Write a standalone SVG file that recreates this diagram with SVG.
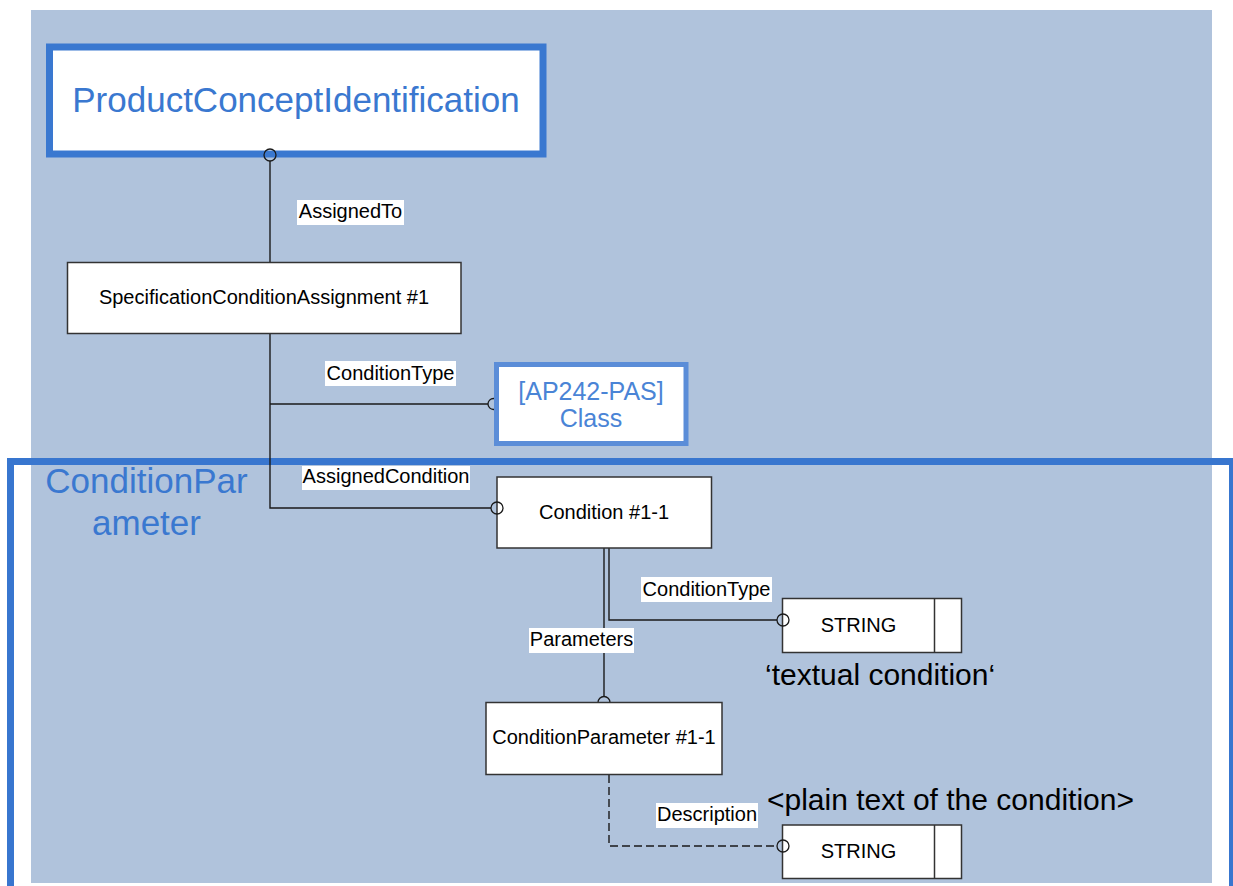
<svg xmlns="http://www.w3.org/2000/svg" width="1233" height="886" viewBox="0 0 1233 886">
<style>
text{font-family:"Liberation Sans",Arial,sans-serif;}
.box{fill:#fff;stroke:#333;stroke-width:1.5;}
.lbl{fill:#fff;}
.t20{font-size:20px;fill:#000;}
.mid{text-anchor:middle;}
.con{fill:none;stroke:#1a1a1a;stroke-width:1.4;}
.dash{stroke-dasharray:8 4;}
.ring{fill:none;stroke:#1a1a1a;stroke-width:1.3;}
.big{font-size:35px;fill:#3A78D0;}
.note{font-size:30px;fill:#000;}
</style>
<rect x="31" y="10" width="1181" height="873" fill="#B0C3DC"/>

<g id="frame-ConditionParameter">
<rect x="10.5" y="461.5" width="1222" height="500" fill="none" stroke="#3876CF" stroke-width="7"/>
<text class="big mid" x="146.5" y="493">ConditionPar</text>
<text class="big mid" x="146.5" y="535">ameter</text>
</g>

<g id="connectors">
<line class="con" x1="270" y1="161" x2="270" y2="262"/>
<polyline class="con" points="270,333 270,508 491,508"/>
<line class="con" x1="270" y1="404" x2="488" y2="404"/>
<line class="con" x1="604" y1="548" x2="604" y2="696.5"/>
<polyline class="con" points="609,548 609,620 777,620"/>
<polyline class="con dash" points="609,775 609,846 777,846"/>
<circle class="ring" cx="493.5" cy="404" r="5.5"/>
<path class="ring" d="M598,702.5 A6,6 0 0 1 610,702.5"/>
<rect class="lbl" x="297" y="200" width="107" height="25"/>
<text class="t20 mid" x="350.5" y="218">AssignedTo</text>
<rect class="lbl" x="325" y="361" width="131" height="25"/>
<text class="t20 mid" x="390.5" y="380">ConditionType</text>
<rect class="lbl" x="302" y="466" width="168" height="24"/>
<text class="t20 mid" x="386" y="483">AssignedCondition</text>
<rect class="lbl" x="641" y="577" width="131" height="25"/>
<text class="t20 mid" x="706.5" y="596">ConditionType</text>
<rect class="lbl" x="529" y="628" width="105" height="25"/>
<text class="t20 mid" x="581.5" y="646">Parameters</text>
<rect class="lbl" x="656" y="803" width="102" height="25"/>
<text class="t20 mid" x="707" y="821">Description</text>
</g>

<g id="node-ProductConceptIdentification">
<rect x="49.5" y="47" width="493.5" height="107" fill="#fff" stroke="#3A78D0" stroke-width="7"/>
<text class="big mid" x="296" y="112">ProductConceptIdentification</text>
</g>

<g id="node-SpecificationConditionAssignment">
<rect class="box" x="67.5" y="262.5" width="393.5" height="71"/>
<text class="t20 mid" x="264" y="304">SpecificationConditionAssignment #1</text>
</g>

<g id="node-Class">
<rect x="496.5" y="364.5" width="189.5" height="79" fill="#fff" stroke="#5B8DD8" stroke-width="5"/>
<text class="mid" x="591" y="400" font-size="25" fill="#4A84D6">[AP242-PAS]</text>
<text class="mid" x="591" y="427" font-size="25" fill="#4A84D6">Class</text>
</g>

<g id="node-Condition">
<rect class="box" x="497" y="477" width="214.5" height="71"/>
<text class="t20 mid" x="604" y="519">Condition #1-1</text>
</g>

<g id="node-STRING-1">
<rect class="box" x="782.5" y="598.5" width="179" height="54"/>
<line x1="934.5" y1="598.5" x2="934.5" y2="652.5" stroke="#333" stroke-width="1.5"/>
<text class="t20 mid" x="858.5" y="632">STRING</text>
<text class="note" x="765" y="685">‘textual condition‘</text>
</g>

<g id="node-ConditionParameter">
<rect class="box" x="486" y="702.5" width="236" height="72"/>
<text class="t20 mid" x="604" y="744">ConditionParameter #1-1</text>
</g>

<g id="node-STRING-2">
<rect class="box" x="782.5" y="825" width="179" height="53.5"/>
<line x1="934.5" y1="825" x2="934.5" y2="878.5" stroke="#333" stroke-width="1.5"/>
<text class="t20 mid" x="858.5" y="858">STRING</text>
<text class="note" x="767" y="810">&lt;plain text of the condition&gt;</text>
</g>

<g id="connector-ends">
<circle class="ring" cx="270" cy="155" r="6"/>
<circle class="ring" cx="497" cy="508" r="6"/>
<circle class="ring" cx="783" cy="620" r="6"/>
<circle class="ring" cx="783" cy="846" r="6"/>
</g>
</svg>
